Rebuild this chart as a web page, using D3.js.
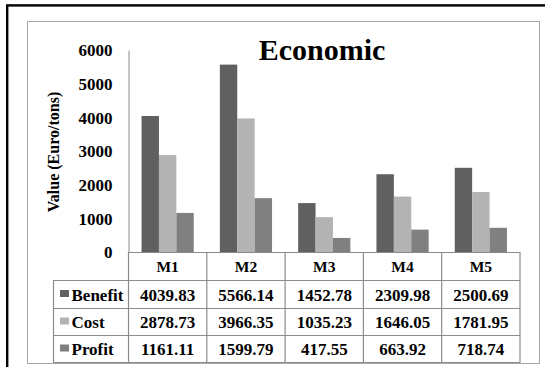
<!DOCTYPE html>
<html>
<head>
<meta charset="utf-8">
<script src="https://cdn.jsdelivr.net/npm/d3@7"></script>
<style>
  html, body { margin: 0; padding: 0; background: #fff; }
  svg { display: block; }
</style>
</head>
<body>
<svg id="chart" width="545" height="367"></svg>
<script>
// Economic indicators per scenario (Euro/tons)
const categories = ["M1", "M2", "M3", "M4", "M5"];
const seriesNames = ["Benefit", "Cost", "Profit"];
const benefit = [4039.83, 5566.14, 1452.78, 2309.98, 2500.69];
const cost = [2878.73, 3966.35, 1035.23, 1646.05, 1781.95];
const profit = [1161.11, 1599.79, 417.55, 663.92, 718.74];
const yTicks = [0, 1000, 2000, 3000, 4000, 5000, 6000];
const titleText = "Economic";
const yTitle = "Value (Euro/tons)";

const seriesValues = [benefit, cost, profit];
const colors = ["#606060", "#b3b3b3", "#808080"];
const FONT = "Liberation Serif";

const svg = d3.select("#chart");

function label(sel) {
  return sel.attr("font-family", FONT).attr("font-weight", "bold").attr("fill", "#000");
}

// frame: black outer line (top/left) and grey chart border
svg.append("rect")
  .attr("x", 7.2).attr("y", 5.4).attr("width", 560).attr("height", 400)
  .attr("fill", "none").attr("stroke", "#000").attr("stroke-width", 2.4);
svg.append("rect")
  .attr("x", 27.5).attr("y", 21.5).attr("width", 512).attr("height", 342)
  .attr("fill", "#fff").attr("stroke", "#a6a6a6").attr("stroke-width", 1);

// scales
const plotLeft = 128.5, plotRight = 520;
const y = d3.scaleLinear().domain([0, 6000]).range([252, 50]);
const x0 = d3.scaleBand().domain(categories).range([plotLeft, plotRight]).padding(0);
const x1 = d3.scaleBand().domain(seriesNames).range([0, x0.bandwidth()])
  .paddingInner(0).paddingOuter(0.75);

// title
label(svg.append("text"))
  .attr("x", 322).attr("y", 60)
  .attr("text-anchor", "middle")
  .attr("font-size", 30)
  .text(titleText);

// y axis title
label(svg.append("text"))
  .attr("transform", "translate(59,152) rotate(-90)")
  .attr("text-anchor", "middle")
  .attr("font-size", 16)
  .text(yTitle);

// y axis
const yAxis = d3.axisLeft(y).tickValues(yTicks).tickSize(0).tickPadding(16)
  .tickFormat(d3.format("d"));
const gY = svg.append("g").attr("transform", `translate(${plotLeft},0)`).call(yAxis);
gY.attr("font-family", FONT).attr("font-size", 17).attr("font-weight", "bold");
gY.select(".domain").attr("stroke", "#8c8c8c").attr("stroke-width", 1);
label(gY.selectAll(".tick text")).attr("font-size", 17).attr("dy", "0.34em");

// bars
const groups = svg.append("g").selectAll("g")
  .data(categories)
  .join("g")
  .attr("transform", d => `translate(${x0(d)},0)`);
groups.selectAll("rect")
  .data((c, i) => seriesNames.map((s, k) => ({ s, k, v: seriesValues[k][i] })))
  .join("rect")
  .attr("x", d => x1(d.s))
  .attr("width", x1.bandwidth())
  .attr("y", d => y(d.v))
  .attr("height", d => y(0) - y(d.v))
  .attr("fill", d => colors[d.k]);

// data table
const rowEdges = [252, 280, 308, 335, 362];
const tableLeft = 53.5;
const lineColor = "#8c8c8c";
const table = svg.append("g");

// horizontal rules
rowEdges.forEach((ry, i) => {
  table.append("line")
    .attr("x1", i === 0 ? plotLeft : tableLeft).attr("x2", plotRight)
    .attr("y1", ry + 0.5).attr("y2", ry + 0.5)
    .attr("stroke", lineColor).attr("stroke-width", 1.2);
});
// vertical rules
const colEdges = categories.map(c => x0(c)).concat([plotRight]);
colEdges.forEach(cx => {
  table.append("line")
    .attr("x1", cx).attr("x2", cx)
    .attr("y1", rowEdges[0]).attr("y2", rowEdges[4] + 1)
    .attr("stroke", lineColor).attr("stroke-width", 1.2);
});
table.append("line")
  .attr("x1", tableLeft).attr("x2", tableLeft)
  .attr("y1", rowEdges[1]).attr("y2", rowEdges[4] + 1)
  .attr("stroke", lineColor).attr("stroke-width", 1.2);

// header row
label(table.selectAll("text.head")
  .data(categories)
  .join("text")
  .attr("class", "head"))
  .attr("x", d => x0(d) + x0.bandwidth() / 2)
  .attr("y", (rowEdges[0] + rowEdges[1]) / 2 + 1)
  .attr("dy", "0.34em")
  .attr("text-anchor", "middle")
  .attr("font-size", 15.5)
  .text(d => d);

// series rows
seriesNames.forEach((s, k) => {
  const cy = (rowEdges[k + 1] + rowEdges[k + 2]) / 2 + 1;
  table.append("rect")
    .attr("x", 60).attr("y", cy - 5).attr("width", 9).attr("height", 7)
    .attr("fill", colors[k]);
  label(table.append("text"))
    .attr("x", 71.5).attr("y", cy).attr("dy", "0.34em")
    .attr("font-size", 17)
    .text(s);
  label(table.append("g").selectAll("text")
    .data(categories)
    .join("text"))
    .attr("x", d => x0(d) + x0.bandwidth() / 2)
    .attr("y", cy).attr("dy", "0.34em")
    .attr("text-anchor", "middle")
    .attr("font-size", 17)
    .text((d, i) => seriesValues[k][i].toFixed(2));
});
</script>
</body>
</html>
